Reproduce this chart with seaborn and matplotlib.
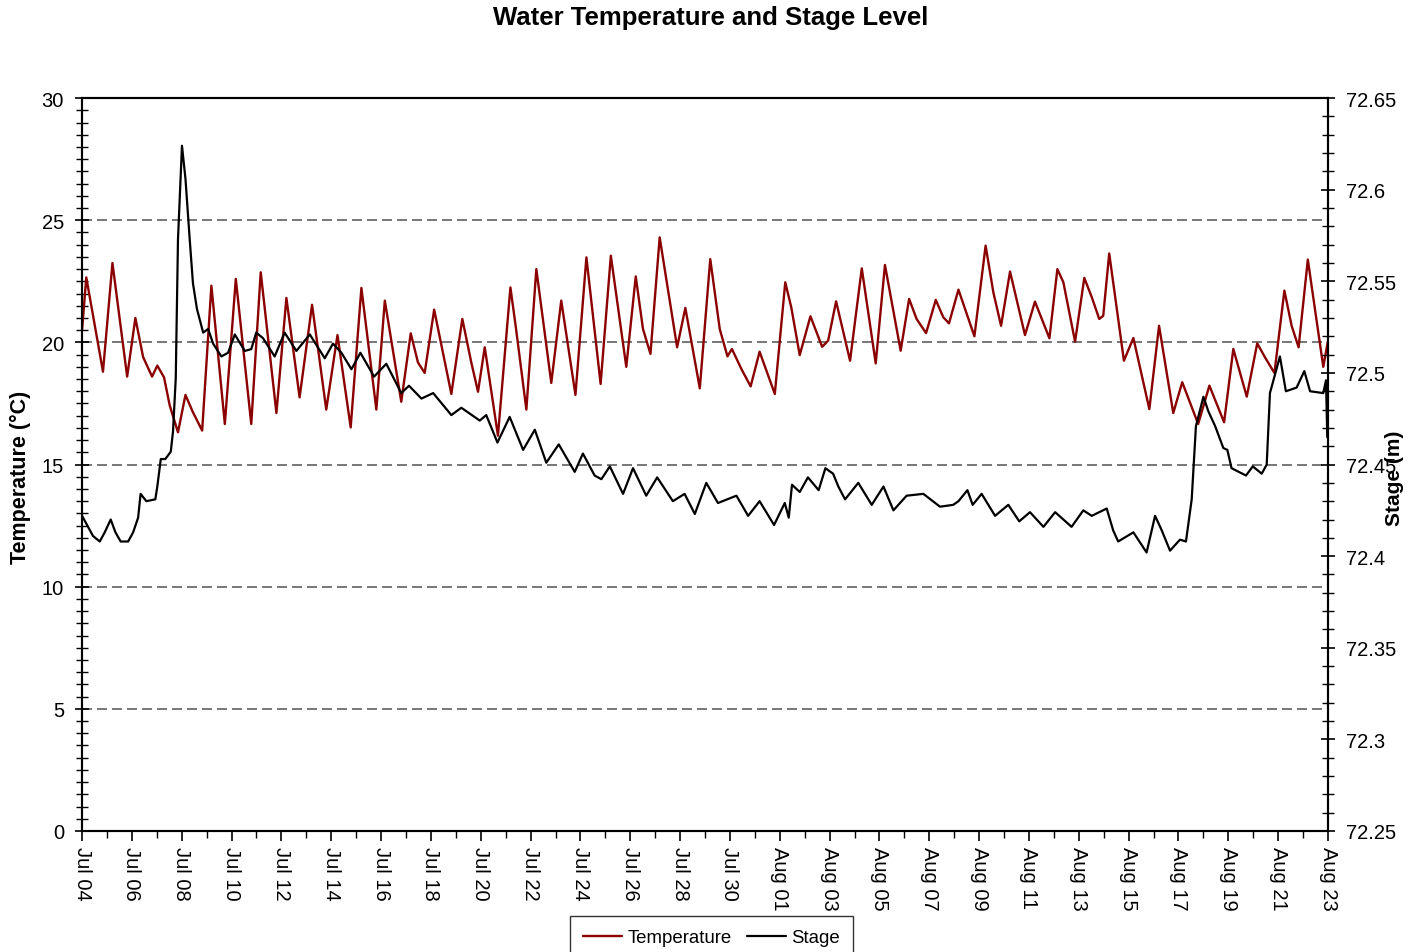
import pandas as pd
import matplotlib
matplotlib.use("Agg")
import matplotlib.pyplot as plt
import matplotlib.dates as mdates
import matplotlib.ticker as ticker
import seaborn as sns

# =========================
# DATOS
# =========================

inicio = pd.Timestamp("2015-07-04")

# dias desde Jul 04 00:00 y temperatura (C)
temp_dias = [
    0.00, 0.17, 0.84, 1.22, 1.81, 2.14, 2.45, 2.81, 3.02, 3.29,
    3.52, 3.85, 4.15, 4.45, 4.82, 5.19, 5.73, 6.17, 6.79, 7.17,
    7.80, 8.20, 8.73, 9.23, 9.80, 10.25, 10.78, 11.21, 11.81, 12.15,
    12.81, 13.19, 13.48, 13.75, 14.13, 14.82, 15.26, 15.62, 15.89, 16.16,
    16.69, 17.19, 17.40, 17.83, 18.23, 18.83, 19.23, 19.80, 20.24, 20.81,
    21.22, 21.84, 22.22, 22.51, 22.81, 23.18, 23.88, 24.21, 24.79, 25.21,
    25.59, 25.90, 26.08, 26.46, 26.83, 27.19, 27.80, 28.22, 28.46, 28.80,
    29.23, 29.70, 29.94, 30.26, 30.82, 31.29, 31.85, 32.22, 32.85, 33.19,
    33.49, 33.87, 34.26, 34.56, 34.79, 35.17, 35.81, 36.26, 36.57, 36.88,
    37.24, 37.84, 38.24, 38.82, 39.14, 39.38, 39.85, 40.22, 40.52, 40.82,
    40.98, 41.22, 41.81, 42.19, 42.83, 43.22, 43.79, 44.15, 44.79, 45.24,
    45.83, 46.20, 46.74, 47.16, 47.47, 47.85, 48.25, 48.54, 48.82, 49.19,
    49.81, 50.00,
]
temp_valores = [
    20.5, 22.66, 18.8, 23.25, 18.6, 21.0, 19.4, 18.6, 19.05, 18.57,
    17.41, 16.32, 17.85, 17.14, 16.39, 22.32, 16.66, 22.6, 16.66, 22.87,
    17.11, 21.82, 17.75, 21.54, 17.25, 20.3, 16.52, 22.23, 17.25, 21.71,
    17.57, 20.37, 19.18, 18.75, 21.34, 17.89, 20.96, 19.18, 17.98, 19.8,
    16.18, 22.25, 20.68, 17.25, 23.0, 18.34, 21.71, 17.85, 23.48, 18.3,
    23.55, 19.0, 22.7, 20.55, 19.53, 24.3, 19.8, 21.41, 18.12, 23.41,
    20.55, 19.43, 19.73, 18.91, 18.2, 19.62, 17.89, 22.46, 21.44, 19.48,
    21.07, 19.82, 20.07, 21.68, 19.25, 23.03, 19.14, 23.17, 19.66, 21.78,
    20.96, 20.38, 21.74, 21.03, 20.78, 22.16, 20.25, 23.96, 22.05, 20.68,
    22.9, 20.3, 21.67, 20.17, 23.0, 22.46, 20.03, 22.64, 21.85, 20.96,
    21.09, 23.64, 19.25, 20.18, 17.27, 20.68, 17.11, 18.37, 16.66, 18.23,
    16.73, 19.73, 17.78, 19.96, 19.39, 18.75, 22.12, 20.68, 19.8, 23.39,
    19.0, 20.07,
]

# dias desde Jul 04 00:00 y nivel (m)
nivel_dias = [
    0.00, 0.44, 0.71, 0.91, 1.15, 1.34, 1.55, 1.85, 2.05, 2.25,
    2.35, 2.58, 2.94, 3.02, 3.16, 3.34, 3.56, 3.65, 3.76, 3.85,
    4.01, 4.15, 4.32, 4.45, 4.61, 4.86, 5.06, 5.26, 5.59, 5.86,
    6.13, 6.53, 6.79, 6.99, 7.26, 7.73, 8.13, 8.60, 9.14, 9.74,
    10.07, 10.41, 10.81, 11.17, 11.72, 12.21, 12.81, 13.12, 13.62, 14.09,
    14.82, 15.22, 15.96, 16.22, 16.67, 17.16, 17.70, 18.17, 18.63, 19.13,
    19.77, 20.10, 20.57, 20.84, 21.18, 21.71, 22.11, 22.64, 23.08, 23.71,
    24.18, 24.59, 25.05, 25.52, 26.26, 26.73, 27.19, 27.77, 28.20, 28.36,
    28.49, 28.80, 29.13, 29.56, 29.83, 30.14, 30.35, 30.62, 31.15, 31.69,
    32.16, 32.56, 33.09, 33.76, 34.43, 34.96, 35.17, 35.53, 35.74, 36.10,
    36.64, 37.17, 37.61, 38.04, 38.58, 39.05, 39.71, 40.18, 40.52, 41.12,
    41.38, 41.58, 42.19, 42.72, 43.06, 43.33, 43.66, 44.06, 44.30, 44.53,
    44.70, 45.00, 45.20, 45.47, 45.80, 45.96, 46.13, 46.71, 46.98, 47.34,
    47.54, 47.67, 48.07, 48.31, 48.74, 49.05, 49.28, 49.81, 49.92, 49.97,
]
nivel_valores = [
    72.422, 72.411, 72.408, 72.413, 72.420, 72.413, 72.408, 72.408, 72.413, 72.421,
    72.434, 72.430, 72.431, 72.438, 72.453, 72.453, 72.457, 72.468, 72.497, 72.573,
    72.624, 72.606, 72.573, 72.549, 72.535, 72.522, 72.524, 72.516, 72.509, 72.511,
    72.521, 72.512, 72.513, 72.522, 72.519, 72.509, 72.522, 72.512, 72.521, 72.508,
    72.516, 72.511, 72.502, 72.511, 72.498, 72.505, 72.489, 72.493, 72.486, 72.489,
    72.477, 72.481, 72.474, 72.477, 72.462, 72.476, 72.458, 72.469, 72.451, 72.461,
    72.446, 72.456, 72.444, 72.442, 72.449, 72.434, 72.448, 72.433, 72.443, 72.430,
    72.434, 72.423, 72.440, 72.429, 72.433, 72.422, 72.430, 72.417, 72.429, 72.421,
    72.439, 72.435, 72.443, 72.436, 72.448, 72.445, 72.438, 72.431, 72.440, 72.428,
    72.438, 72.425, 72.433, 72.434, 72.427, 72.428, 72.430, 72.436, 72.428, 72.434,
    72.422, 72.428, 72.419, 72.424, 72.416, 72.424, 72.416, 72.425, 72.422, 72.426,
    72.414, 72.408, 72.413, 72.402, 72.422, 72.414, 72.403, 72.409, 72.408, 72.431,
    72.471, 72.487, 72.479, 72.471, 72.459, 72.458, 72.448, 72.444, 72.449, 72.445,
    72.450, 72.489, 72.509, 72.490, 72.492, 72.501, 72.490, 72.489, 72.496, 72.465,
]

temp_df = pd.DataFrame({
    "Fecha": inicio + pd.to_timedelta(temp_dias, unit="D"),
    "Temperature": temp_valores,
})
nivel_df = pd.DataFrame({
    "Fecha": inicio + pd.to_timedelta(nivel_dias, unit="D"),
    "Stage": nivel_valores,
})

# =========================
# ESTILO
# =========================

sns.set_style("ticks")
plt.rcParams["font.family"] = ["Liberation Sans", "DejaVu Sans"]
plt.rcParams["text.color"] = "black"
plt.rcParams["axes.labelcolor"] = "black"

ROJO = "#8b0000"

fig = plt.figure(figsize=(14.22, 9.53), dpi=100)
ax = fig.add_axes([0.0577, 0.127, 0.8762, 0.769])
ax2 = ax.twinx()

sns.lineplot(data=temp_df, x="Fecha", y="Temperature", ax=ax, color=ROJO,
             lw=1.7, estimator=None, sort=False, label="Temperature", legend=False)
sns.lineplot(data=nivel_df, x="Fecha", y="Stage", ax=ax2, color="black",
             lw=1.6, estimator=None, sort=False, label="Stage", legend=False)

# ejes
ax.set_xlim(inicio, inicio + pd.Timedelta(days=50))
ax.set_ylim(0, 30)
ax2.set_ylim(72.25, 72.65)

ax.yaxis.set_major_locator(ticker.MultipleLocator(5))
ax.yaxis.set_minor_locator(ticker.MultipleLocator(0.5))
ax2.yaxis.set_major_locator(ticker.MultipleLocator(0.05))
ax2.yaxis.set_minor_locator(ticker.MultipleLocator(0.01))
ax2.yaxis.set_major_formatter(ticker.FuncFormatter(lambda v, p: f"{round(v, 2):g}"))

fechas = pd.date_range(inicio, inicio + pd.Timedelta(days=50), freq="2D")
ax.set_xticks(fechas)
ax.xaxis.set_minor_locator(mdates.DayLocator())
ax.xaxis.set_major_formatter(mdates.DateFormatter("%b %d"))

ax.grid(False)
ax2.grid(False)
ax.yaxis.grid(True, which="major", linestyle=(0, (6, 3)), color="#606060", lw=1.2)

for a in (ax, ax2):
    for s in a.spines.values():
        s.set_color("black")
        s.set_linewidth(1.5)
    a.tick_params(axis="y", which="major", direction="inout", length=10, width=1.2,
                  labelsize=14.5, pad=8, colors="black")
    a.tick_params(axis="y", which="minor", direction="inout", length=8, width=1.0,
                  colors="black")

ax.tick_params(axis="x", which="major", direction="out", length=7, width=1.2,
               labelsize=14.5, pad=4, colors="black")
ax.tick_params(axis="x", which="minor", direction="out", length=5, width=1.0,
               colors="black")
plt.setp(ax.get_xticklabels(), rotation=270, ha="center", va="top")

ax.set_xlabel("")
ax.set_ylabel("Temperature (\u00b0C)", fontsize=15.5, fontweight="bold")
ax2.set_ylabel("Stage (m)", fontsize=15, fontweight="bold")
ax.yaxis.set_label_coords(-0.041, 0.484)
ax2.yaxis.set_label_coords(1.046, 0.483)

fig.suptitle("Water Temperature and Stage Level", fontsize=18.5, fontweight="bold",
             x=0.5, y=0.994, va="top", color="black")

# leyenda abajo, cortada por el borde
h1, l1 = ax.get_legend_handles_labels()
h2, l2 = ax2.get_legend_handles_labels()
leg = fig.legend(h1 + h2, l1 + l2, loc="upper left", bbox_to_anchor=(0.4008, 0.0378),
                 ncol=2, frameon=True, fancybox=False, fontsize=13.4,
                 handlelength=2.1, handletextpad=0.3, columnspacing=0.8,
                 borderpad=0.7, borderaxespad=0)
leg.get_frame().set_edgecolor("black")
leg.get_frame().set_linewidth(1.0)

fig.savefig("out.png", dpi=100)
